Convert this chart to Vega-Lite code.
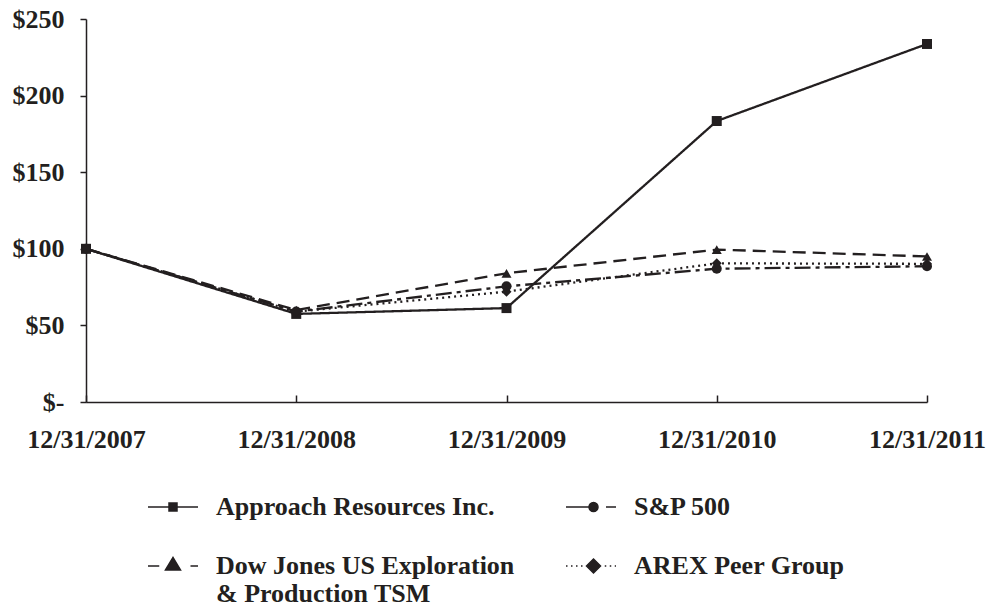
{
  "$schema": "https://vega.github.io/schema/vega-lite/v6.json",
  "width": 841,
  "height": 383,
  "autosize": {"type": "none"},
  "padding": {"left": 86, "top": 19, "right": 62, "bottom": 211},
  "background": "white",
  "config": {
    "view": {"stroke": null},
    "font": "Liberation Serif",
    "axis": {"labelFont": "Liberation Serif", "labelFontWeight": "bold", "labelColor": "#231f20", "domainColor": "#231f20", "tickColor": "#231f20", "domainWidth": 1.5, "tickWidth": 1.5, "grid": false, "title": null}
  },
  "data": {
    "values": [
      {"date": "12/31/2007", "series": "Approach Resources Inc.", "value": 100},
      {"date": "12/31/2008", "series": "Approach Resources Inc.", "value": 57.5},
      {"date": "12/31/2009", "series": "Approach Resources Inc.", "value": 61.3},
      {"date": "12/31/2010", "series": "Approach Resources Inc.", "value": 183.4},
      {"date": "12/31/2011", "series": "Approach Resources Inc.", "value": 233.7},
      {"date": "12/31/2007", "series": "S&P 500", "value": 100},
      {"date": "12/31/2008", "series": "S&P 500", "value": 59},
      {"date": "12/31/2009", "series": "S&P 500", "value": 75.5},
      {"date": "12/31/2010", "series": "S&P 500", "value": 87},
      {"date": "12/31/2011", "series": "S&P 500", "value": 88.6},
      {"date": "12/31/2007", "series": "Dow Jones US Exploration & Production TSM", "value": 100},
      {"date": "12/31/2008", "series": "Dow Jones US Exploration & Production TSM", "value": 60},
      {"date": "12/31/2009", "series": "Dow Jones US Exploration & Production TSM", "value": 84},
      {"date": "12/31/2010", "series": "Dow Jones US Exploration & Production TSM", "value": 99.5},
      {"date": "12/31/2011", "series": "Dow Jones US Exploration & Production TSM", "value": 95},
      {"date": "12/31/2007", "series": "AREX Peer Group", "value": 100},
      {"date": "12/31/2008", "series": "AREX Peer Group", "value": 59},
      {"date": "12/31/2009", "series": "AREX Peer Group", "value": 72},
      {"date": "12/31/2010", "series": "AREX Peer Group", "value": 90.5},
      {"date": "12/31/2011", "series": "AREX Peer Group", "value": 90.2}
    ]
  },
  "encoding": {
    "x": {
      "field": "date", "type": "ordinal",
      "scale": {"type": "point", "padding": 0},
      "axis": {"labelAngle": 0, "labelFontSize": 26, "tickSize": -7, "labelPadding": 31, "labelFlush": false}
    },
    "y": {
      "field": "value", "type": "quantitative",
      "scale": {"domain": [0, 250], "nice": false},
      "axis": {"values": [0, 50, 100, 150, 200, 250], "labelFontSize": 26, "tickSize": 6, "labelPadding": 16,
        "labelExpr": "datum.value == 0 ? '$-' : '$' + datum.value"}
    }
  },
  "layer": [
    {
      "mark": {"type": "line", "color": "#231f20", "strokeWidth": 2.3},
      "encoding": {
        "detail": {"field": "series"},
        "strokeDash": {
          "field": "series", "type": "nominal",
          "scale": {
            "domain": ["Approach Resources Inc.", "S&P 500", "Dow Jones US Exploration & Production TSM", "AREX Peer Group"],
            "range": [[1, 0], [16, 5, 4, 5], [13, 7], [2, 4]]
          },
          "legend": null
        }
      }
    },
    {
      "mark": {"type": "point", "filled": true, "color": "#231f20", "opacity": 1, "size": 100},
      "encoding": {
        "shape": {
          "field": "series", "type": "nominal",
          "scale": {
            "domain": ["Approach Resources Inc.", "S&P 500", "Dow Jones US Exploration & Production TSM", "AREX Peer Group"],
            "range": ["square", "circle", "triangle-up", "diamond"]
          },
          "legend": null
        }
      }
    },
    {
      "mark": {"type": "point", "filled": true, "fill": "#231f20", "stroke": "#231f20", "strokeWidth": 2, "opacity": 0},
      "encoding": {
        "shape": {
          "field": "series", "type": "nominal",
          "scale": {
            "domain": ["Approach Resources Inc.", "S&P 500", "Dow Jones US Exploration & Production TSM", "AREX Peer Group"],
            "range": [
              "M-1,0H1M-0.16,-0.16H0.16V0.16H-0.16Z",
              "M-1,0H-0.05M0.6,0H1M-0.08,0A0.18,0.18 0 1,0 0.28,0A0.18,0.18 0 1,0 -0.08,0Z",
              "M-1,0H-0.55M0.7,0H1M-0.3,0.16L0,-0.34L0.3,0.16Z",
              "M-1,0H-0.94M-0.8,0H-0.74M-0.6,0H-0.54M-0.4,0H-0.34M0.1,-0.28L0.38,0L0.1,0.28L-0.18,0ZM0.55,0H0.61M0.75,0H0.81M0.95,0H1"
            ]
          },
          "legend": {
            "title": null,
            "orient": "none",
            "direction": "horizontal",
            "legendX": 61,
            "legendY": 462,
            "columns": 2,
            "columnPadding": 48,
            "rowPadding": 20,
            "padding": 0,
            "symbolSize": 2500,
            "symbolOffset": 0,
            "symbolOpacity": 1,
            "labelFont": "Liberation Serif",
            "labelFontWeight": "bold",
            "labelFontSize": 26,
            "labelColor": "#231f20",
            "labelLimit": 500,
            "labelOffset": 17,
            "labelExpr": "datum.label == 'Dow Jones US Exploration & Production TSM' ? ['Dow Jones US Exploration', '& Production TSM'] : datum.label == 'AREX Peer Group' ? ['AREX Peer Group', ' '] : datum.label",
            "encode": {
              "symbols": {"fill": {"value": "#231f20"}, "stroke": {"value": "#231f20"}, "strokeWidth": {"value": 2}, "opacity": {"value": 1}},
              "labels": {"lineHeight": {"value": 31}}
            }
          }
        }
      }
    }
  ],
  "resolve": {"scale": {"shape": "independent"}, "legend": {"shape": "independent"}}
}
